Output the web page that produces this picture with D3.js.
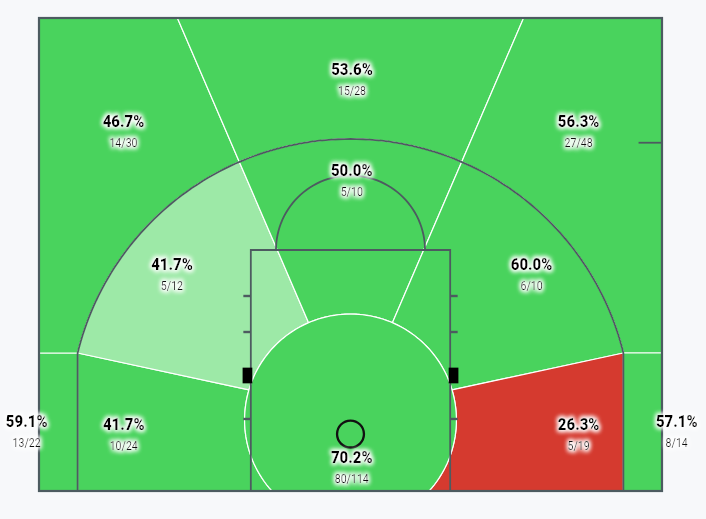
<!DOCTYPE html>
<html>
<head>
<meta charset="utf-8">
<script src="https://cdn.jsdelivr.net/npm/d3@7/dist/d3.min.js"></script>
<style>
  html, body { margin: 0; padding: 0; background: #f7f8fa; }
  svg { display: block; }
  text { font-family: Roboto, "Noto Sans", sans-serif; }
</style>
</head>
<body>
<div id="chart"></div>
<script>
// ---- DATA ----
const zones    = ["Left Corner 3", "Left Wing 3", "Top 3", "Right Wing 3", "Right Corner 3",
                  "Left Baseline Mid", "Left Wing Mid", "Top Mid", "Right Wing Mid", "Right Baseline Mid",
                  "Paint"];
const made     = [13, 14, 15, 27, 8, 10, 5, 5, 6, 5, 80];
const attempts = [22, 30, 28, 48, 14, 24, 12, 10, 10, 19, 114];
const rating   = ["above", "above", "above", "above", "above",
                  "above", "near", "above", "above", "below",
                  "above"];

// ---- SETUP ----
const W = 706, H = 519;
const TOP = 37.96;               // visible court depth in feet
const x = d3.scaleLinear().domain([-25, 25]).range([39, 662]);
const y = d3.scaleLinear().domain([0, TOP]).range([491, 18]);
const color = d3.scaleOrdinal().domain(["above", "near", "below"])
  .range(["#49d35d", "#9de9a7", "#d53a2f"]);
const lineCol = "#4d5b60";

const svg = d3.select("#chart").append("svg").attr("width", W).attr("height", H);

const defs = svg.append("defs");
defs.append("clipPath").attr("id", "court")
  .append("rect").attr("x", x(-25)).attr("y", y(TOP)).attr("width", x(25) - x(-25)).attr("height", y(0) - y(TOP));
const f = defs.append("filter").attr("id", "glow")
  .attr("x", "-30%").attr("y", "-60%").attr("width", "160%").attr("height", "220%");
f.append("feMorphology").attr("in", "SourceAlpha").attr("operator", "dilate").attr("radius", 1.2).attr("result", "d");
f.append("feGaussianBlur").attr("in", "d").attr("stdDeviation", 2.4).attr("result", "b");
f.append("feFlood").attr("flood-color", "#ffffff").attr("flood-opacity", 1).attr("result", "w");
f.append("feComposite").attr("in", "w").attr("in2", "b").attr("operator", "in").attr("result", "g");
const fm = f.append("feMerge");
fm.append("feMergeNode").attr("in", "g");
fm.append("feMergeNode").attr("in", "g");
fm.append("feMergeNode").attr("in", "SourceGraphic");

// ---- GEOMETRY (feet) ----
const C = [0, 5.7];              // zone centre
const R3 = 22.55, XC = 21.9, RI = 8.5;
const rad = d => d * Math.PI / 180, deg = r => r * 180 / Math.PI;
const pol = (r, d) => [C[0] + r * Math.cos(rad(d)), C[1] + r * Math.sin(rad(d))];
const arc = (r, d0, d1, n = 60) => d3.range(n + 1).map(i => pol(r, d0 + (d1 - d0) * i / n));
const yI = C[1] + Math.sqrt(R3 * R3 - XC * XC);
const aP = deg(Math.atan2(yI - C[1], -XC));
const aRad = 90 + 23.3;
const topX = ((TOP - C[1]) / Math.sin(rad(aRad))) * Math.cos(rad(aRad));
const aQ = 163.5;
const aB = 180 + deg(Math.asin(C[1] / RI));
const xB = -Math.sqrt(RI * RI - C[1] * C[1]);
const mir = pts => pts.map(p => [-p[0], p[1]]);

const LC3 = [[-25, 0], [-XC, 0], [-XC, yI], [-25, yI]];
const LW3 = [[-25, yI], ...arc(R3, aP, aRad), [topX, TOP], [-25, TOP]];
const T3  = [[topX, TOP], ...arc(R3, aRad, 180 - aRad), [-topX, TOP]];
const LWM = [...arc(R3, aRad, aP), ...arc(RI, aQ, aRad)];
const TM  = [...arc(R3, 180 - aRad, aRad), ...arc(RI, aRad, 180 - aRad)];
const LBM = [[-XC, yI], [-XC, 0], [xB, 0], ...arc(RI, aB, aQ)];
const PNT = arc(RI, aB, 180 - aB, 120);
const shapes = [LC3, LW3, T3, mir(LW3), mir(LC3), LBM, LWM, TM, mir(LWM), mir(LBM), PNT];

// label anchors (feet) for each zone, percentage baseline
const anchors = [[-25.99, 5.11], [-18.22, 29.19], [0.12, 33.35], [18.31, 29.19], [26.18, 5.11],
                 [-18.2, 4.9], [-14.33, 17.7], [0.1, 25.3], [14.53, 17.7], [18.31, 4.9],
                 [0.1, 2.27]];

const line = d3.line().x(p => x(p[0])).y(p => y(p[1]));

// ---- ZONES ----
svg.append("g").attr("clip-path", "url(#court)")
  .selectAll("path").data(zones).join("path")
  .attr("d", (d, i) => line(shapes[i]) + "Z")
  .attr("fill", (d, i) => color(rating[i]))
  .attr("stroke", "#ffffff").attr("stroke-width", 1.2).attr("stroke-linejoin", "round");

// ---- COURT LINES ----
const court = svg.append("g").attr("fill", "none").attr("stroke", lineCol).attr("stroke-width", 1.8);
// three point line
court.append("path").attr("d", line([[-XC, 0], ...arc(R3, aP, 180 - aP, 120), [XC, 0]]));
// lane
const LW = 8, FT = 19.34;
court.append("path").attr("d", line([[-LW, 0], [-LW, FT], [LW, FT], [LW, 0]]));
// free throw semicircle
court.append("path").attr("d", line(d3.range(61).map(i => {
  const a = Math.PI * i / 60; return [5.98 * Math.cos(a), FT + 5.98 * Math.sin(a)];
})));
// lane hash marks
const ticks = [15.65, 12.76, 5.78];
[-1, 1].forEach(s => {
  ticks.forEach(t => court.append("line")
    .attr("x1", x(s * LW)).attr("x2", x(s * 8.6)).attr("y1", y(t)).attr("y2", y(t))
    .attr("stroke-width", 2.4));
  svg.append("rect")
    .attr("x", s < 0 ? x(-8.66) : x(7.88)).attr("y", y(9.9))
    .attr("width", x(-7.88) - x(-8.66)).attr("height", y(8.64) - y(9.9))
    .attr("fill", "#000");
});
// sideline hash (right side)
court.append("line").attr("x1", x(23.12)).attr("x2", x(25)).attr("y1", y(27.95)).attr("y2", y(27.95))
  .attr("stroke-width", 1.8);
// frame
court.append("rect").attr("x", x(-25)).attr("y", y(TOP))
  .attr("width", x(25) - x(-25)).attr("height", y(0) - y(TOP)).attr("stroke-width", 2.2);
// hoop
svg.append("circle").attr("cx", x(0)).attr("cy", y(4.57)).attr("r", x(1.08) - x(0))
  .attr("fill", "none").attr("stroke", "#111").attr("stroke-width", 2.3);

// ---- LABELS ----
const lab = svg.append("g").selectAll("g").data(zones).join("g")
  .attr("transform", (d, i) => `translate(${x(anchors[i][0])},${y(anchors[i][1])}) scale(0.88,1)`)
  .attr("filter", "url(#glow)");
lab.append("text").attr("text-anchor", "middle")
  .attr("font-size", 17).attr("font-weight", 900).attr("fill", "#000")
  .text((d, i) => (made[i] / attempts[i] * 100).toFixed(1) + "%");
lab.append("text").attr("text-anchor", "middle").attr("y", 20)
  .attr("font-size", 12).attr("font-weight", 400).attr("fill", "#111")
  .text((d, i) => `${made[i]}/${attempts[i]}`);
</script>
</body>
</html>
